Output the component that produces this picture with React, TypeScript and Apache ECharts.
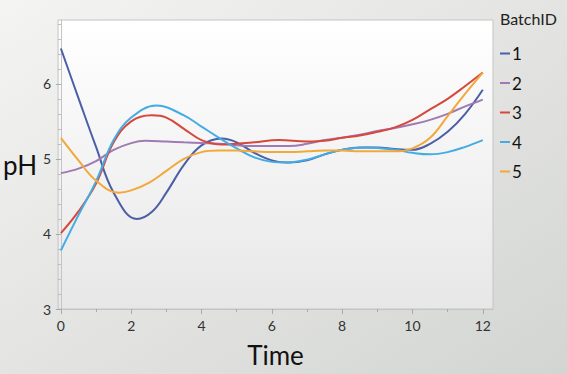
import React, { useEffect, useRef } from "react";
import * as echarts from "echarts";

const batchIds = ["1", "2", "3", "4", "5"];

const time1 = [0, 0.5, 1, 1.5, 2.16, 2.6, 3, 3.5, 4, 4.57, 5, 5.5, 6, 6.45, 7, 7.5, 8, 8.5, 9, 9.5, 10, 10.5, 11, 11.5, 12];
const batch1 = [6.47, 5.81, 5.16, 4.55, 4.2, 4.3, 4.55, 4.92, 5.18, 5.27, 5.22, 5.08, 4.98, 4.95, 4.98, 5.06, 5.12, 5.15, 5.15, 5.13, 5.12, 5.2, 5.36, 5.6, 5.92];

const time2 = [0, 0.5, 1, 1.5, 2, 2.4, 3, 3.5, 4, 4.5, 5, 5.5, 6, 6.5, 7, 7.5, 8, 8.5, 9, 9.5, 10, 10.5, 11, 11.5, 12];
const batch2 = [4.81, 4.87, 4.97, 5.12, 5.21, 5.24, 5.23, 5.22, 5.21, 5.2, 5.18, 5.17, 5.17, 5.17, 5.2, 5.25, 5.28, 5.32, 5.37, 5.41, 5.46, 5.52, 5.6, 5.7, 5.79];

const time3 = [0, 0.5, 1, 1.5, 2, 2.58, 3, 3.5, 4, 4.6, 5, 5.5, 6.2, 7, 7.5, 8, 8.5, 9, 9.5, 10, 10.5, 11, 11.5, 12];
const batch3 = [4.01, 4.3, 4.67, 5.22, 5.5, 5.58, 5.55, 5.4, 5.25, 5.19, 5.2, 5.22, 5.25, 5.23, 5.24, 5.28, 5.31, 5.36, 5.42, 5.52, 5.66, 5.8, 5.97, 6.15];

const time4 = [0, 0.5, 1, 1.5, 2, 2.72, 3.5, 4, 4.5, 5, 5.5, 6, 6.4, 7, 7.5, 8, 8.7, 9.5, 10, 10.5, 11, 11.5, 12];
const batch4 = [3.78, 4.25, 4.7, 5.25, 5.55, 5.71, 5.58, 5.43, 5.28, 5.14, 5.02, 4.96, 4.95, 4.99, 5.06, 5.12, 5.15, 5.12, 5.08, 5.06, 5.09, 5.16, 5.25];

const time5 = [0, 0.5, 1, 1.64, 2, 2.5, 3, 3.5, 4, 4.5, 5, 5.5, 6, 6.5, 7, 7.5, 8, 8.5, 9, 9.5, 10, 10.5, 11, 11.5, 12];
const batch5 = [5.28, 4.98, 4.71, 4.55, 4.58, 4.68, 4.84, 5.0, 5.09, 5.11, 5.11, 5.1, 5.09, 5.09, 5.1, 5.11, 5.11, 5.1, 5.1, 5.1, 5.14, 5.28, 5.57, 5.87, 6.15];

const seriesTimes = [time1, time2, time3, time4, time5];
const seriesValues = [batch1, batch2, batch3, batch4, batch5];
const colors = ["#4b5fa6", "#a07ab3", "#d6483b", "#44ace2", "#f2a83a"];

const xTickLabels = [0, 2, 4, 6, 8, 10, 12];
const xMinorTicks = [1, 3, 5, 7, 9, 11];
const yTickLabels = [3, 4, 5, 6];
const yMinorTicks: number[] = [];
for (let v = 3.2; v < 6.85; v += 0.2) {
  const r = Math.round(v * 10) / 10;
  if (Math.abs(r - Math.round(r)) > 0.01) yMinorTicks.push(r);
}

const FONT = "Lato, 'Open Sans', sans-serif";

export default function App() {
  const ref = useRef<HTMLDivElement>(null);
  useEffect(() => {
    if (!ref.current) return;
    const chart = echarts.init(ref.current, null, { renderer: "svg" });
    const xMin = -0.08;
    const xMax = 12.29;
    const yMin = 3;
    const yMax = 6.85;
    const axisColor = "#c4c4c4";
    chart.setOption({
      animation: false,
      backgroundColor: new echarts.graphic.LinearGradient(0, 0, 1, 1, [
        { offset: 0, color: "#f4f4f2" },
        { offset: 1, color: "#d3d5d2" },
      ]),
      textStyle: { fontFamily: FONT },
      title: {
        text: "BatchID",
        left: 495,
        top: 5,
        textStyle: { fontSize: 16, fontWeight: "normal", color: "#222", fontFamily: FONT },
      },
      legend: {
        orient: "vertical",
        left: 495,
        top: 39,
        icon: "rect",
        itemWidth: 10,
        itemHeight: 2,
        itemGap: 10.5,
        data: batchIds,
        textStyle: { fontSize: 17, color: "#111", fontFamily: FONT, padding: [0, 0, 0, -3], lineHeight: 19 },
      },
      grid: {
        left: 56,
        right: 74,
        top: 20,
        bottom: 65,
        show: true,
        borderColor: axisColor,
        borderWidth: 1,
        backgroundColor: new echarts.graphic.LinearGradient(0, 0, 0, 1, [
          { offset: 0, color: "#ffffff" },
          { offset: 1, color: "#e6e7e6" },
        ]),
      },
      xAxis: [
        {
          type: "value",
          min: xMin,
          max: xMax,
          name: "Time",
          nameLocation: "middle",
          nameGap: 33,
          nameTextStyle: { fontSize: 26, color: "#111", fontFamily: FONT },
          axisLine: { show: true, lineStyle: { color: axisColor } },
          axisTick: { show: true, length: 5, lineStyle: { color: "#aaa" }, customValues: xTickLabels },
          axisLabel: { fontSize: 14, color: "#333", margin: 9, customValues: xTickLabels, fontFamily: FONT },
          splitLine: { show: false },
        },
        {
          type: "value",
          min: xMin,
          max: xMax,
          position: "bottom",
          axisLine: { show: false },
          axisTick: { show: true, length: 3, lineStyle: { color: "#aaa" }, customValues: xMinorTicks },
          axisLabel: { show: false },
          splitLine: { show: false },
        },
      ],
      yAxis: [
        {
          type: "value",
          min: yMin,
          max: yMax,
          name: "pH",
          nameLocation: "middle",
          nameRotate: 0,
          nameGap: 21,
          nameTextStyle: { fontSize: 26, color: "#111", fontFamily: FONT, padding: [14, 0, 0, 0] },
          axisLine: { show: true, lineStyle: { color: axisColor } },
          axisTick: { show: true, length: 5, lineStyle: { color: "#aaa" }, customValues: yTickLabels },
          axisLabel: { fontSize: 14, color: "#333", margin: 7, customValues: yTickLabels, fontFamily: FONT },
          splitLine: { show: false },
        },
        {
          type: "value",
          min: yMin,
          max: yMax,
          position: "left",
          axisLine: { show: false },
          axisTick: { show: true, length: 3, lineStyle: { color: "#bbb" }, customValues: yMinorTicks },
          axisLabel: { show: false },
          splitLine: { show: false },
        },
      ],
      series: seriesValues.map((vals, i) => ({
        name: batchIds[i],
        type: "line",
        smooth: 0.4,
        showSymbol: false,
        symbol: "none",
        color: colors[i],
        lineStyle: { width: 2, color: colors[i] },
        data: vals.map((v, j) => [seriesTimes[i][j], v]),
      })),
    });
    return () => chart.dispose();
  }, []);
  return <div ref={ref} style={{ position: "fixed", left: 0, top: 0, width: 567, height: 374 }} />;
}
